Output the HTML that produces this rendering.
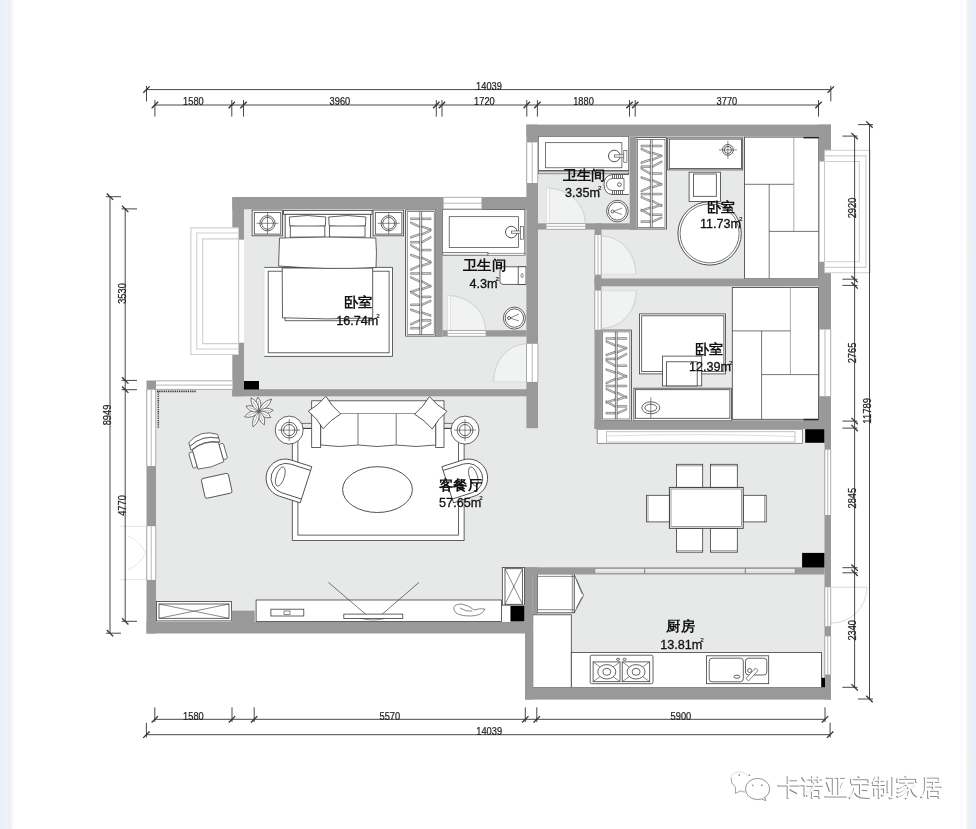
<!DOCTYPE html>
<html><head><meta charset="utf-8"><style>
html,body{margin:0;padding:0;background:#fff;}
body{width:976px;height:829px;overflow:hidden;position:relative;font-family:"Liberation Sans", sans-serif;}
.edgeL{position:absolute;left:0;top:0;width:16px;height:829px;background:linear-gradient(to right,#e8f2f5 0px,#e9f1f8 2px,#ecf1fa 4px,#edf1fb 7px,#eeeef8 8px,#efeff8 10px,#f4f4f8 11.5px,#f9fafd 12.5px,#fdfefe 14px,#ffffff 16px);}
.edgeR{position:absolute;left:958px;top:0;width:18px;height:829px;background:linear-gradient(to right,#ffffff 0px,#ffffff 2px,#fcfcfe 2.5px,#fcfcfe 4.5px,#ffffff 5px,#ffffff 7.5px,#f6f7f7 8.5px,#f0f1f2 10px,#eef0f4 12px,#edf0f8 14px,#ebeffb 16px,#ebeffb 18px);}
svg{position:absolute;left:0;top:0;will-change:transform;}
</style></head><body>
<div class="edgeL"></div><div class="edgeR"></div>
<svg width="976" height="829" viewBox="0 0 976 829">
<rect x="244.0" y="209.0" width="294.0" height="187.0" fill="#e7e8e8"/>
<rect x="538.0" y="136.0" width="293.0" height="293.0" fill="#e7e8e8"/>
<rect x="156.0" y="389.0" width="675.0" height="233.0" fill="#e7e8e8"/>
<rect x="525.0" y="567.0" width="306.0" height="133.0" fill="#e7e8e8"/>
<rect x="264.1" y="267.4" width="128.4" height="89.0" fill="#ffffff"/>
<path d="M264.1,267.4 L392.5,267.4 L392.5,356.4 L264.1,356.4" fill="none" stroke="#3a3a3a" stroke-width="0.8"/>
<line x1="264.1" y1="267.4" x2="264.1" y2="356.4" stroke="#d8d8d8" stroke-width="0.6"/>
<rect x="268.2" y="271.2" width="120.9" height="81.6" fill="none" stroke="#3c3c3c" stroke-width="0.8"/>
<rect x="252.1" y="210.1" width="30.4" height="25.7" fill="#ffffff" stroke="#3c3c3c" stroke-width="0.8"/>
<rect x="254.3" y="212.6" width="26.5" height="21.5" fill="none" stroke="#3c3c3c" stroke-width="0.8"/>
<circle cx="267.5" cy="223.3" r="7.6" fill="#ffffff" stroke="#3c3c3c" stroke-width="0.8"/>
<circle cx="267.5" cy="223.3" r="5.9" fill="none" stroke="#3c3c3c" stroke-width="0.8"/>
<line x1="256.5" y1="223.3" x2="278.5" y2="223.3" stroke="#3c3c3c" stroke-width="0.6"/>
<line x1="267.5" y1="212.3" x2="267.5" y2="234.3" stroke="#3c3c3c" stroke-width="0.6"/>
<rect x="373.1" y="210.1" width="30.5" height="25.7" fill="#ffffff" stroke="#3c3c3c" stroke-width="0.8"/>
<rect x="375.3" y="212.6" width="26.6" height="21.5" fill="none" stroke="#3c3c3c" stroke-width="0.8"/>
<circle cx="388.7" cy="223.3" r="7.6" fill="#ffffff" stroke="#3c3c3c" stroke-width="0.8"/>
<circle cx="388.7" cy="223.3" r="5.9" fill="none" stroke="#3c3c3c" stroke-width="0.8"/>
<line x1="377.7" y1="223.3" x2="399.7" y2="223.3" stroke="#3c3c3c" stroke-width="0.6"/>
<line x1="388.7" y1="212.3" x2="388.7" y2="234.3" stroke="#3c3c3c" stroke-width="0.6"/>
<rect x="283.5" y="210.4" width="88.6" height="3.9" fill="#ffffff" stroke="#3c3c3c" stroke-width="0.8"/>
<rect x="285.2" y="214.3" width="85.2" height="25.7" fill="#ffffff" stroke="#3c3c3c" stroke-width="0.8"/>
<path d="M289.3,217 Q307,214 325.8,217 L325.3,226 Q307,228 289.8,226 Z" fill="#ffffff" stroke="#3a3a3a" stroke-width="0.8"/>
<path d="M328.7,217 Q347,214 365.9,217 L365.4,226 Q347,228 329.2,226 Z" fill="#ffffff" stroke="#3a3a3a" stroke-width="0.8"/>
<path d="M290.3,226 L324.8,226 L324.8,237.1 L290.3,237.1 Z" fill="#ffffff" stroke="#3a3a3a" stroke-width="0.8"/>
<path d="M329.5,226 L365.0,226 L365.0,237.1 L329.5,237.1 Z" fill="#ffffff" stroke="#3a3a3a" stroke-width="0.8"/>
<path d="M285,268 L285,320.7 L372,320.7 L372,268" fill="#ffffff" stroke="#3a3a3a" stroke-width="0.8"/>
<path d="M282.2,268 L282.5,317.8 Q327,320 372.7,317.8 L372.7,268 Z" fill="#ffffff" stroke="#3a3a3a" stroke-width="0.8"/>
<path d="M279.5,238 Q279,253 278.6,266 Q327,270 376,267.5 Q377,252 375.8,238 Q327,236 279.5,238 Z" fill="#ffffff" stroke="#3a3a3a" stroke-width="0.8"/>
<rect x="405.6" y="209.9" width="30.2" height="126.2" fill="#ffffff" stroke="#3c3c3c" stroke-width="0.8"/>
<rect x="407.2" y="211.7" width="27.0" height="122.8" fill="none" stroke="#3c3c3c" stroke-width="0.6"/>
<path d="M419.5,218.0 L410.6,218.0 L410.6,219.6 L419.5,219.6 Z" fill="#e4e4e4" stroke="#555" stroke-width="0.6"/>
<path d="M421.9,218.0 L431.0,218.0 L431.0,219.6 L421.9,219.6 Z" fill="#e4e4e4" stroke="#555" stroke-width="0.6"/>
<path d="M419.5,225.8 L410.6,221.8 L410.6,223.4 L419.5,227.4 Z" fill="#e4e4e4" stroke="#555" stroke-width="0.6"/>
<path d="M421.9,225.8 L431.0,228.8 L431.0,230.4 L421.9,227.4 Z" fill="#e4e4e4" stroke="#555" stroke-width="0.6"/>
<path d="M419.5,233.6 L410.6,236.6 L410.6,238.2 L419.5,235.2 Z" fill="#e4e4e4" stroke="#555" stroke-width="0.6"/>
<path d="M421.9,233.6 L431.0,229.6 L431.0,231.2 L421.9,235.2 Z" fill="#e4e4e4" stroke="#555" stroke-width="0.6"/>
<path d="M419.5,241.4 L410.6,241.4 L410.6,243.0 L419.5,243.0 Z" fill="#e4e4e4" stroke="#555" stroke-width="0.6"/>
<path d="M421.9,241.4 L431.0,236.4 L431.0,238.0 L421.9,243.0 Z" fill="#e4e4e4" stroke="#555" stroke-width="0.6"/>
<path d="M419.5,249.3 L410.6,244.3 L410.6,245.9 L419.5,250.9 Z" fill="#e4e4e4" stroke="#555" stroke-width="0.6"/>
<path d="M421.9,249.3 L431.0,249.3 L431.0,250.9 L421.9,250.9 Z" fill="#e4e4e4" stroke="#555" stroke-width="0.6"/>
<path d="M419.5,257.1 L410.6,254.1 L410.6,255.7 L419.5,258.7 Z" fill="#e4e4e4" stroke="#555" stroke-width="0.6"/>
<path d="M421.9,257.1 L431.0,261.1 L431.0,262.7 L421.9,258.7 Z" fill="#e4e4e4" stroke="#555" stroke-width="0.6"/>
<path d="M419.5,264.9 L410.6,268.9 L410.6,270.5 L419.5,266.5 Z" fill="#e4e4e4" stroke="#555" stroke-width="0.6"/>
<path d="M421.9,264.9 L431.0,261.9 L431.0,263.5 L421.9,266.5 Z" fill="#e4e4e4" stroke="#555" stroke-width="0.6"/>
<path d="M419.5,272.7 L410.6,272.7 L410.6,274.3 L419.5,274.3 Z" fill="#e4e4e4" stroke="#555" stroke-width="0.6"/>
<path d="M421.9,272.7 L431.0,272.7 L431.0,274.3 L421.9,274.3 Z" fill="#e4e4e4" stroke="#555" stroke-width="0.6"/>
<path d="M419.5,280.5 L410.6,276.5 L410.6,278.1 L419.5,282.1 Z" fill="#e4e4e4" stroke="#555" stroke-width="0.6"/>
<path d="M421.9,280.5 L431.0,285.5 L431.0,287.1 L421.9,282.1 Z" fill="#e4e4e4" stroke="#555" stroke-width="0.6"/>
<path d="M419.5,288.3 L410.6,291.3 L410.6,292.9 L419.5,289.9 Z" fill="#e4e4e4" stroke="#555" stroke-width="0.6"/>
<path d="M421.9,288.3 L431.0,285.3 L431.0,286.9 L421.9,289.9 Z" fill="#e4e4e4" stroke="#555" stroke-width="0.6"/>
<path d="M419.5,296.1 L410.6,291.1 L410.6,292.7 L419.5,297.7 Z" fill="#e4e4e4" stroke="#555" stroke-width="0.6"/>
<path d="M421.9,296.1 L431.0,296.1 L431.0,297.7 L421.9,297.7 Z" fill="#e4e4e4" stroke="#555" stroke-width="0.6"/>
<path d="M419.5,304.0 L410.6,304.0 L410.6,305.6 L419.5,305.6 Z" fill="#e4e4e4" stroke="#555" stroke-width="0.6"/>
<path d="M421.9,304.0 L431.0,300.0 L431.0,301.6 L421.9,305.6 Z" fill="#e4e4e4" stroke="#555" stroke-width="0.6"/>
<path d="M419.5,311.8 L410.6,308.8 L410.6,310.4 L419.5,313.4 Z" fill="#e4e4e4" stroke="#555" stroke-width="0.6"/>
<path d="M421.9,311.8 L431.0,314.8 L431.0,316.4 L421.9,313.4 Z" fill="#e4e4e4" stroke="#555" stroke-width="0.6"/>
<path d="M419.5,319.6 L410.6,323.6 L410.6,325.2 L419.5,321.2 Z" fill="#e4e4e4" stroke="#555" stroke-width="0.6"/>
<path d="M421.9,319.6 L431.0,319.6 L431.0,321.2 L421.9,321.2 Z" fill="#e4e4e4" stroke="#555" stroke-width="0.6"/>
<path d="M419.5,327.4 L410.6,327.4 L410.6,329.0 L419.5,329.0 Z" fill="#e4e4e4" stroke="#555" stroke-width="0.6"/>
<path d="M421.9,327.4 L431.0,322.4 L431.0,324.0 L421.9,329.0 Z" fill="#e4e4e4" stroke="#555" stroke-width="0.6"/>
<line x1="419.8" y1="211.7" x2="419.8" y2="334.5" stroke="#444" stroke-width="0.7"/>
<line x1="421.6" y1="211.7" x2="421.6" y2="334.5" stroke="#444" stroke-width="0.7"/>
<rect x="636.0" y="137.6" width="30.6" height="91.4" fill="#ffffff" stroke="#3c3c3c" stroke-width="0.8"/>
<rect x="637.6" y="139.4" width="27.4" height="88.0" fill="none" stroke="#3c3c3c" stroke-width="0.6"/>
<path d="M650.1,145.2 L641.0,145.2 L641.0,146.8 L650.1,146.8 Z" fill="#e4e4e4" stroke="#555" stroke-width="0.6"/>
<path d="M652.5,145.2 L661.8,145.2 L661.8,146.8 L652.5,146.8 Z" fill="#e4e4e4" stroke="#555" stroke-width="0.6"/>
<path d="M650.1,152.1 L641.0,148.1 L641.0,149.7 L650.1,153.7 Z" fill="#e4e4e4" stroke="#555" stroke-width="0.6"/>
<path d="M652.5,152.1 L661.8,155.1 L661.8,156.7 L652.5,153.7 Z" fill="#e4e4e4" stroke="#555" stroke-width="0.6"/>
<path d="M650.1,159.0 L641.0,162.0 L641.0,163.6 L650.1,160.6 Z" fill="#e4e4e4" stroke="#555" stroke-width="0.6"/>
<path d="M652.5,159.0 L661.8,155.0 L661.8,156.6 L652.5,160.6 Z" fill="#e4e4e4" stroke="#555" stroke-width="0.6"/>
<path d="M650.1,165.8 L641.0,165.8 L641.0,167.4 L650.1,167.4 Z" fill="#e4e4e4" stroke="#555" stroke-width="0.6"/>
<path d="M652.5,165.8 L661.8,160.8 L661.8,162.4 L652.5,167.4 Z" fill="#e4e4e4" stroke="#555" stroke-width="0.6"/>
<path d="M650.1,172.7 L641.0,167.7 L641.0,169.3 L650.1,174.3 Z" fill="#e4e4e4" stroke="#555" stroke-width="0.6"/>
<path d="M652.5,172.7 L661.8,172.7 L661.8,174.3 L652.5,174.3 Z" fill="#e4e4e4" stroke="#555" stroke-width="0.6"/>
<path d="M650.1,179.6 L641.0,176.6 L641.0,178.2 L650.1,181.2 Z" fill="#e4e4e4" stroke="#555" stroke-width="0.6"/>
<path d="M652.5,179.6 L661.8,183.6 L661.8,185.2 L652.5,181.2 Z" fill="#e4e4e4" stroke="#555" stroke-width="0.6"/>
<path d="M650.1,186.4 L641.0,190.4 L641.0,192.0 L650.1,188.0 Z" fill="#e4e4e4" stroke="#555" stroke-width="0.6"/>
<path d="M652.5,186.4 L661.8,183.4 L661.8,185.0 L652.5,188.0 Z" fill="#e4e4e4" stroke="#555" stroke-width="0.6"/>
<path d="M650.1,193.3 L641.0,193.3 L641.0,194.9 L650.1,194.9 Z" fill="#e4e4e4" stroke="#555" stroke-width="0.6"/>
<path d="M652.5,193.3 L661.8,193.3 L661.8,194.9 L652.5,194.9 Z" fill="#e4e4e4" stroke="#555" stroke-width="0.6"/>
<path d="M650.1,200.2 L641.0,196.2 L641.0,197.8 L650.1,201.8 Z" fill="#e4e4e4" stroke="#555" stroke-width="0.6"/>
<path d="M652.5,200.2 L661.8,205.2 L661.8,206.8 L652.5,201.8 Z" fill="#e4e4e4" stroke="#555" stroke-width="0.6"/>
<path d="M650.1,207.0 L641.0,210.0 L641.0,211.6 L650.1,208.6 Z" fill="#e4e4e4" stroke="#555" stroke-width="0.6"/>
<path d="M652.5,207.0 L661.8,204.0 L661.8,205.6 L652.5,208.6 Z" fill="#e4e4e4" stroke="#555" stroke-width="0.6"/>
<path d="M650.1,213.9 L641.0,208.9 L641.0,210.5 L650.1,215.5 Z" fill="#e4e4e4" stroke="#555" stroke-width="0.6"/>
<path d="M652.5,213.9 L661.8,213.9 L661.8,215.5 L652.5,215.5 Z" fill="#e4e4e4" stroke="#555" stroke-width="0.6"/>
<path d="M650.1,220.8 L641.0,220.8 L641.0,222.4 L650.1,222.4 Z" fill="#e4e4e4" stroke="#555" stroke-width="0.6"/>
<path d="M652.5,220.8 L661.8,216.8 L661.8,218.4 L652.5,222.4 Z" fill="#e4e4e4" stroke="#555" stroke-width="0.6"/>
<line x1="650.4" y1="139.4" x2="650.4" y2="227.4" stroke="#444" stroke-width="0.7"/>
<line x1="652.2" y1="139.4" x2="652.2" y2="227.4" stroke="#444" stroke-width="0.7"/>
<rect x="601.0" y="330.1" width="30.5" height="90.5" fill="#ffffff" stroke="#3c3c3c" stroke-width="0.8"/>
<rect x="602.6" y="331.9" width="27.3" height="87.1" fill="none" stroke="#3c3c3c" stroke-width="0.6"/>
<path d="M615.0,337.7 L606.0,337.7 L606.0,339.3 L615.0,339.3 Z" fill="#e4e4e4" stroke="#555" stroke-width="0.6"/>
<path d="M617.5,337.7 L626.7,337.7 L626.7,339.3 L617.5,339.3 Z" fill="#e4e4e4" stroke="#555" stroke-width="0.6"/>
<path d="M615.0,344.5 L606.0,340.5 L606.0,342.1 L615.0,346.1 Z" fill="#e4e4e4" stroke="#555" stroke-width="0.6"/>
<path d="M617.5,344.5 L626.7,347.5 L626.7,349.1 L617.5,346.1 Z" fill="#e4e4e4" stroke="#555" stroke-width="0.6"/>
<path d="M615.0,351.3 L606.0,354.3 L606.0,355.9 L615.0,352.9 Z" fill="#e4e4e4" stroke="#555" stroke-width="0.6"/>
<path d="M617.5,351.3 L626.7,347.3 L626.7,348.9 L617.5,352.9 Z" fill="#e4e4e4" stroke="#555" stroke-width="0.6"/>
<path d="M615.0,358.1 L606.0,358.1 L606.0,359.7 L615.0,359.7 Z" fill="#e4e4e4" stroke="#555" stroke-width="0.6"/>
<path d="M617.5,358.1 L626.7,353.1 L626.7,354.7 L617.5,359.7 Z" fill="#e4e4e4" stroke="#555" stroke-width="0.6"/>
<path d="M615.0,364.9 L606.0,359.9 L606.0,361.5 L615.0,366.5 Z" fill="#e4e4e4" stroke="#555" stroke-width="0.6"/>
<path d="M617.5,364.9 L626.7,364.9 L626.7,366.5 L617.5,366.5 Z" fill="#e4e4e4" stroke="#555" stroke-width="0.6"/>
<path d="M615.0,371.7 L606.0,368.7 L606.0,370.3 L615.0,373.3 Z" fill="#e4e4e4" stroke="#555" stroke-width="0.6"/>
<path d="M617.5,371.7 L626.7,375.7 L626.7,377.3 L617.5,373.3 Z" fill="#e4e4e4" stroke="#555" stroke-width="0.6"/>
<path d="M615.0,378.4 L606.0,382.4 L606.0,384.0 L615.0,380.0 Z" fill="#e4e4e4" stroke="#555" stroke-width="0.6"/>
<path d="M617.5,378.4 L626.7,375.4 L626.7,377.0 L617.5,380.0 Z" fill="#e4e4e4" stroke="#555" stroke-width="0.6"/>
<path d="M615.0,385.2 L606.0,385.2 L606.0,386.8 L615.0,386.8 Z" fill="#e4e4e4" stroke="#555" stroke-width="0.6"/>
<path d="M617.5,385.2 L626.7,385.2 L626.7,386.8 L617.5,386.8 Z" fill="#e4e4e4" stroke="#555" stroke-width="0.6"/>
<path d="M615.0,392.0 L606.0,388.0 L606.0,389.6 L615.0,393.6 Z" fill="#e4e4e4" stroke="#555" stroke-width="0.6"/>
<path d="M617.5,392.0 L626.7,397.0 L626.7,398.6 L617.5,393.6 Z" fill="#e4e4e4" stroke="#555" stroke-width="0.6"/>
<path d="M615.0,398.8 L606.0,401.8 L606.0,403.4 L615.0,400.4 Z" fill="#e4e4e4" stroke="#555" stroke-width="0.6"/>
<path d="M617.5,398.8 L626.7,395.8 L626.7,397.4 L617.5,400.4 Z" fill="#e4e4e4" stroke="#555" stroke-width="0.6"/>
<path d="M615.0,405.6 L606.0,400.6 L606.0,402.2 L615.0,407.2 Z" fill="#e4e4e4" stroke="#555" stroke-width="0.6"/>
<path d="M617.5,405.6 L626.7,405.6 L626.7,407.2 L617.5,407.2 Z" fill="#e4e4e4" stroke="#555" stroke-width="0.6"/>
<path d="M615.0,412.4 L606.0,412.4 L606.0,414.0 L615.0,414.0 Z" fill="#e4e4e4" stroke="#555" stroke-width="0.6"/>
<path d="M617.5,412.4 L626.7,408.4 L626.7,410.0 L617.5,414.0 Z" fill="#e4e4e4" stroke="#555" stroke-width="0.6"/>
<line x1="615.4" y1="331.9" x2="615.4" y2="419.0" stroke="#444" stroke-width="0.7"/>
<line x1="617.1" y1="331.9" x2="617.1" y2="419.0" stroke="#444" stroke-width="0.7"/>
<rect x="442.5" y="209.5" width="82.4" height="45.2" fill="#ffffff" stroke="#3c3c3c" stroke-width="0.8"/>
<rect x="449.2" y="216.7" width="69.4" height="30.8" fill="#ffffff" stroke="#3c3c3c" stroke-width="0.7"/>
<circle cx="511.3" cy="232.1" r="5.8" fill="#ffffff" stroke="#3c3c3c" stroke-width="0.9"/>
<rect x="511.3" y="231.0" width="9.7" height="2.2" fill="#ffffff" stroke="#3c3c3c" stroke-width="0.6"/>
<rect x="520.3" y="226.3" width="3.1" height="12.9" fill="#ffffff" stroke="#3c3c3c" stroke-width="0.6"/>
<rect x="442.8" y="252.6" width="45.2" height="2.6" fill="#f0f0f0" stroke="#3c3c3c" stroke-width="0.6"/>
<rect x="488.0" y="253.2" width="37.0" height="2.0" fill="#ffffff" stroke="#3c3c3c" stroke-width="0.5"/>
<path d="M526,266.8 L503,266.8 Q500,267.5 500,270 L500,281.5 Q500,284.2 503,284.4 L526,284.4" fill="#ffffff" stroke="#3c3c3c" stroke-width="0.8"/>
<rect x="518.2" y="266.8" width="7.8" height="17.6" fill="#ffffff" stroke="#3c3c3c" stroke-width="0.8"/>
<ellipse cx="522.1" cy="275.6" rx="1.1" ry="2.0" fill="none" stroke="#3c3c3c" stroke-width="0.6"/>
<circle cx="514.4" cy="318.1" r="11.0" fill="#ffffff" stroke="#3c3c3c" stroke-width="0.8"/>
<circle cx="514.4" cy="318.1" r="9.2" fill="#ffffff" stroke="#3c3c3c" stroke-width="0.8"/>
<circle cx="509.0" cy="318.0" r="1.5" fill="none" stroke="#3c3c3c" stroke-width="0.8"/>
<line x1="510.0" y1="318.0" x2="519.0" y2="314.0" stroke="#3c3c3c" stroke-width="0.6"/>
<line x1="510.0" y1="318.0" x2="519.0" y2="321.0" stroke="#3c3c3c" stroke-width="0.6"/>
<rect x="538.2" y="136.3" width="90.6" height="34.2" fill="#ffffff" stroke="#3c3c3c" stroke-width="0.8"/>
<rect x="545.5" y="142.7" width="76.4" height="25.1" fill="#ffffff" stroke="#3c3c3c" stroke-width="0.7"/>
<circle cx="614.3" cy="156.0" r="5.8" fill="#ffffff" stroke="#3c3c3c" stroke-width="0.9"/>
<rect x="614.3" y="154.9" width="10.2" height="2.2" fill="#ffffff" stroke="#3c3c3c" stroke-width="0.6"/>
<rect x="623.8" y="150.3" width="3.1" height="11.9" fill="#ffffff" stroke="#3c3c3c" stroke-width="0.6"/>
<path d="M628.8,174.5 L612,174.5 Q604,176 604,184.5 Q604,193.5 612,194.5 L628.8,194.5" fill="#ffffff" stroke="#3a3a3a" stroke-width="0.8"/>
<path d="M612,178.5 Q606.5,179.5 606.5,184.5 Q606.5,189.5 612,190.5 L624,190.5 L624,178.5 Z" fill="#ffffff" stroke="#3c3c3c" stroke-width="0.7"/>
<line x1="612.5" y1="174.8" x2="612.5" y2="178.3" stroke="#444" stroke-width="0.8"/>
<line x1="612.5" y1="190.8" x2="612.5" y2="194.2" stroke="#444" stroke-width="0.8"/>
<line x1="614.5" y1="174.8" x2="614.5" y2="178.3" stroke="#444" stroke-width="0.8"/>
<line x1="614.5" y1="190.8" x2="614.5" y2="194.2" stroke="#444" stroke-width="0.8"/>
<line x1="616.5" y1="174.8" x2="616.5" y2="178.3" stroke="#444" stroke-width="0.8"/>
<line x1="616.5" y1="190.8" x2="616.5" y2="194.2" stroke="#444" stroke-width="0.8"/>
<line x1="618.5" y1="174.8" x2="618.5" y2="178.3" stroke="#444" stroke-width="0.8"/>
<line x1="618.5" y1="190.8" x2="618.5" y2="194.2" stroke="#444" stroke-width="0.8"/>
<line x1="620.5" y1="174.8" x2="620.5" y2="178.3" stroke="#444" stroke-width="0.8"/>
<line x1="620.5" y1="190.8" x2="620.5" y2="194.2" stroke="#444" stroke-width="0.8"/>
<line x1="622.5" y1="174.8" x2="622.5" y2="178.3" stroke="#444" stroke-width="0.8"/>
<line x1="622.5" y1="190.8" x2="622.5" y2="194.2" stroke="#444" stroke-width="0.8"/>
<circle cx="619.4" cy="184.6" r="1.9" fill="none" stroke="#3c3c3c" stroke-width="0.8"/>
<rect x="538.2" y="171.9" width="90.6" height="1.9" fill="#ffffff" stroke="#3c3c3c" stroke-width="0.6"/>
<circle cx="617.4" cy="211.1" r="10.8" fill="#ffffff" stroke="#3c3c3c" stroke-width="0.8"/>
<circle cx="617.4" cy="211.1" r="9.0" fill="#ffffff" stroke="#3c3c3c" stroke-width="0.8"/>
<circle cx="612.5" cy="211.5" r="1.5" fill="none" stroke="#3c3c3c" stroke-width="0.8"/>
<line x1="613.5" y1="211.5" x2="622.0" y2="208.0" stroke="#3c3c3c" stroke-width="0.6"/>
<line x1="613.5" y1="211.5" x2="622.0" y2="214.5" stroke="#3c3c3c" stroke-width="0.6"/>
<rect x="744.5" y="137.1" width="74.3" height="141.7" fill="#ffffff" stroke="#3c3c3c" stroke-width="0.8"/>
<line x1="744.5" y1="184.3" x2="793.8" y2="184.3" stroke="#3c3c3c" stroke-width="0.7"/>
<line x1="793.8" y1="137.1" x2="793.8" y2="231.4" stroke="#888" stroke-width="0.7"/>
<line x1="769.2" y1="184.3" x2="769.2" y2="278.8" stroke="#3c3c3c" stroke-width="0.7"/>
<line x1="769.2" y1="231.4" x2="818.8" y2="231.4" stroke="#3c3c3c" stroke-width="0.7"/>
<line x1="803.5" y1="137.6" x2="818.8" y2="137.6" stroke="#222" stroke-width="1.6"/>
<rect x="667.7" y="137.9" width="75.0" height="32.0" fill="#ffffff" stroke="#3c3c3c" stroke-width="0.8"/>
<rect x="669.3" y="139.1" width="72.3" height="29.5" fill="none" stroke="#3c3c3c" stroke-width="0.8"/>
<circle cx="727.9" cy="149.9" r="5.4" fill="#ffffff" stroke="#3c3c3c" stroke-width="0.8"/>
<circle cx="727.9" cy="149.9" r="3.6" fill="none" stroke="#3c3c3c" stroke-width="0.8"/>
<line x1="718.9" y1="149.9" x2="736.9" y2="149.9" stroke="#3c3c3c" stroke-width="0.6"/>
<line x1="727.9" y1="140.9" x2="727.9" y2="158.9" stroke="#3c3c3c" stroke-width="0.6"/>
<rect x="689.1" y="172.2" width="31.3" height="29.4" fill="#ffffff" stroke="#3c3c3c" stroke-width="0.8"/>
<rect x="693.6" y="174.0" width="22.7" height="22.3" fill="#ffffff" stroke="#3c3c3c" stroke-width="0.8"/>
<circle cx="709.6" cy="233.4" r="31.7" fill="#ffffff" stroke="#3c3c3c" stroke-width="0.9"/>
<circle cx="709.6" cy="233.4" r="29.5" fill="none" stroke="#3c3c3c" stroke-width="0.7"/>
<rect x="732.3" y="287.4" width="86.2" height="131.9" fill="#ffffff" stroke="#3c3c3c" stroke-width="0.8"/>
<line x1="790.4" y1="287.4" x2="790.4" y2="374.6" stroke="#888" stroke-width="0.7"/>
<line x1="732.3" y1="330.9" x2="790.4" y2="330.9" stroke="#3c3c3c" stroke-width="0.7"/>
<line x1="761.6" y1="330.9" x2="761.6" y2="419.3" stroke="#3c3c3c" stroke-width="0.7"/>
<line x1="761.6" y1="374.6" x2="818.5" y2="374.6" stroke="#3c3c3c" stroke-width="0.7"/>
<rect x="639.5" y="313.9" width="85.9" height="60.0" fill="#ffffff" stroke="#3c3c3c" stroke-width="0.8"/>
<rect x="641.7" y="315.8" width="82.2" height="55.8" fill="none" stroke="#3c3c3c" stroke-width="0.8"/>
<rect x="633.9" y="388.2" width="97.5" height="32.4" fill="#ffffff" stroke="#3c3c3c" stroke-width="0.8"/>
<rect x="635.4" y="389.7" width="94.5" height="28.6" fill="none" stroke="#3c3c3c" stroke-width="0.8"/>
<ellipse cx="650.8" cy="407.8" rx="9.0" ry="6.0" fill="#ffffff" stroke="#3c3c3c" stroke-width="0.8"/>
<ellipse cx="650.8" cy="407.8" rx="6.0" ry="3.6" fill="none" stroke="#3c3c3c" stroke-width="0.8"/>
<line x1="650.8" y1="397.5" x2="650.8" y2="418.0" stroke="#3c3c3c" stroke-width="0.6"/>
<rect x="662.5" y="356.1" width="39.2" height="29.8" fill="#ffffff" stroke="#3c3c3c" stroke-width="0.8"/>
<rect x="666.6" y="361.8" width="30.6" height="24.1" fill="#ffffff" stroke="#3c3c3c" stroke-width="0.8"/>
<rect x="597.2" y="429.2" width="205.4" height="14.1" fill="#ffffff" stroke="#666" stroke-width="0.7"/>
<rect x="606.6" y="431.8" width="188.4" height="10.2" fill="none" stroke="#999" stroke-width="0.6"/>
<path d="M606.6,436 Q700,433 795,436.5" fill="none" stroke="#bbb" stroke-width="0.5"/>
<path d="M157,391.3 L196,391.3" stroke="#333" stroke-width="1.8" stroke-dasharray="1.3,0.9" fill="none"/>
<path d="M158.3,391.3 L158.3,428.6" stroke="#444" stroke-width="1.6" stroke-dasharray="1.3,0.9" fill="none"/>
<rect x="292.3" y="428.4" width="171.8" height="112.1" fill="#ffffff" stroke="#3c3c3c" stroke-width="0.8"/>
<rect x="297.9" y="428.4" width="160.7" height="106.7" fill="none" stroke="#3c3c3c" stroke-width="0.8"/>
<ellipse cx="377.5" cy="489.6" rx="34.9" ry="22.9" fill="#ffffff" stroke="#3c3c3c" stroke-width="0.9"/>
<line x1="301.2" y1="423.4" x2="311.7" y2="423.4" stroke="#3c3c3c" stroke-width="0.7"/>
<line x1="301.2" y1="428.3" x2="311.7" y2="428.3" stroke="#3c3c3c" stroke-width="0.7"/>
<circle cx="289.2" cy="430.1" r="14.0" fill="#ffffff" stroke="#3c3c3c" stroke-width="0.8"/>
<circle cx="289.2" cy="430.1" r="7.9" fill="none" stroke="#3c3c3c" stroke-width="0.8"/>
<circle cx="289.2" cy="430.1" r="5.6" fill="none" stroke="#3c3c3c" stroke-width="0.8"/>
<line x1="278.2" y1="430.1" x2="300.2" y2="430.1" stroke="#3c3c3c" stroke-width="0.6"/>
<line x1="289.2" y1="419.0" x2="289.2" y2="441.0" stroke="#3c3c3c" stroke-width="0.6"/>
<line x1="453.0" y1="423.4" x2="444.0" y2="423.4" stroke="#3c3c3c" stroke-width="0.7"/>
<line x1="453.0" y1="428.3" x2="444.0" y2="428.3" stroke="#3c3c3c" stroke-width="0.7"/>
<circle cx="465.0" cy="430.1" r="14.0" fill="#ffffff" stroke="#3c3c3c" stroke-width="0.8"/>
<circle cx="465.0" cy="430.1" r="7.9" fill="none" stroke="#3c3c3c" stroke-width="0.8"/>
<circle cx="465.0" cy="430.1" r="5.6" fill="none" stroke="#3c3c3c" stroke-width="0.8"/>
<line x1="454.0" y1="430.1" x2="476.0" y2="430.1" stroke="#3c3c3c" stroke-width="0.6"/>
<line x1="465.0" y1="419.0" x2="465.0" y2="441.0" stroke="#3c3c3c" stroke-width="0.6"/>
<rect x="311.7" y="400.8" width="132.3" height="12.9" fill="#ffffff" stroke="#3c3c3c" stroke-width="0.8"/>
<rect x="311.7" y="413.7" width="9.0" height="33.8" fill="#ffffff" stroke="#3c3c3c" stroke-width="0.8"/>
<rect x="435.7" y="413.7" width="8.3" height="33.8" fill="#ffffff" stroke="#3c3c3c" stroke-width="0.8"/>
<path d="M320.7,413.7 L320.7,445 Q339,448 358,445 Q377,448 396.2,445 Q416,448 435.7,445 L435.7,413.7" fill="#ffffff" stroke="#3a3a3a" stroke-width="0.8"/>
<line x1="358.0" y1="413.7" x2="358.0" y2="445.0" stroke="#3c3c3c" stroke-width="0.7"/>
<line x1="396.2" y1="413.7" x2="396.2" y2="445.0" stroke="#3c3c3c" stroke-width="0.7"/>
<g transform="translate(324.5,412.5) rotate(-40)"><path d="M-11.5,-11.5 Q0,-9.5 11.5,-11.5 Q9.5,0 11.5,11.5 Q0,9.5 -11.5,11.5 Q-9.5,0 -11.5,-11.5 Z" fill="#fff" stroke="#3c3c3c" stroke-width="0.8"/></g>
<g transform="translate(430.8,412.8) rotate(40)"><path d="M-11.5,-11.5 Q0,-9.5 11.5,-11.5 Q9.5,0 11.5,11.5 Q0,9.5 -11.5,11.5 Q-9.5,0 -11.5,-11.5 Z" fill="#fff" stroke="#3c3c3c" stroke-width="0.8"/></g>
<g transform="translate(292.7,480.5) rotate(17.8)"><path d="M14,-19 L-8,-19 A19,19 0 0 0 -8,19 L14,19 Z" fill="#fff" stroke="#3c3c3c" stroke-width="0.8"/><path d="M14,-15 L-7,-15 A15,15 0 0 0 -7,15 L14,15" fill="none" stroke="#3c3c3c" stroke-width="0.8"/><ellipse cx="-13" cy="0" rx="4" ry="10" fill="none" stroke="#3c3c3c" stroke-width="0.7"/></g>
<g transform="translate(461,480.5) scale(-1,1) rotate(17.8)"><path d="M14,-19 L-8,-19 A19,19 0 0 0 -8,19 L14,19 Z" fill="#fff" stroke="#3c3c3c" stroke-width="0.8"/><path d="M14,-15 L-7,-15 A15,15 0 0 0 -7,15 L14,15" fill="none" stroke="#3c3c3c" stroke-width="0.8"/><ellipse cx="-13" cy="0" rx="4" ry="10" fill="none" stroke="#3c3c3c" stroke-width="0.7"/></g>
<path d="M258.8,411.4 Q263.5,404.0 257.9,397.2 Q253.2,404.6 258.8,411.4 Z" fill="#fff" stroke="#3c3c3c" stroke-width="0.7"/>
<path d="M258.8,411.4 Q268.8,408.9 271.5,399.0 Q261.5,401.5 258.8,411.4 Z" fill="#fff" stroke="#3c3c3c" stroke-width="0.7"/>
<path d="M258.8,411.4 Q266.4,416.0 273.2,410.2 Q265.6,405.6 258.8,411.4 Z" fill="#fff" stroke="#3c3c3c" stroke-width="0.7"/>
<path d="M258.8,411.4 Q262.4,419.1 270.8,417.5 Q267.2,409.8 258.8,411.4 Z" fill="#fff" stroke="#3c3c3c" stroke-width="0.7"/>
<path d="M258.8,411.4 Q256.7,420.1 264.3,424.9 Q266.4,416.2 258.8,411.4 Z" fill="#fff" stroke="#3c3c3c" stroke-width="0.7"/>
<path d="M258.8,411.4 Q251.0,417.4 253.0,427.0 Q260.8,421.0 258.8,411.4 Z" fill="#fff" stroke="#3c3c3c" stroke-width="0.7"/>
<path d="M258.8,411.4 Q249.9,409.2 244.6,416.8 Q253.5,419.0 258.8,411.4 Z" fill="#fff" stroke="#3c3c3c" stroke-width="0.7"/>
<path d="M258.8,411.4 Q254.4,404.0 246.0,406.2 Q250.4,413.6 258.8,411.4 Z" fill="#fff" stroke="#3c3c3c" stroke-width="0.7"/>
<path d="M258.8,411.4 Q259.4,402.0 251.0,397.8 Q250.4,407.2 258.8,411.4 Z" fill="#fff" stroke="#3c3c3c" stroke-width="0.7"/>
<line x1="258.8" y1="411.4" x2="258.1" y2="400.8" stroke="#666" stroke-width="0.5"/>
<line x1="258.8" y1="411.4" x2="268.3" y2="402.1" stroke="#666" stroke-width="0.5"/>
<line x1="258.8" y1="411.4" x2="269.6" y2="410.5" stroke="#666" stroke-width="0.5"/>
<line x1="258.8" y1="411.4" x2="267.8" y2="416.0" stroke="#666" stroke-width="0.5"/>
<line x1="258.8" y1="411.4" x2="262.9" y2="421.5" stroke="#666" stroke-width="0.5"/>
<line x1="258.8" y1="411.4" x2="254.4" y2="423.1" stroke="#666" stroke-width="0.5"/>
<line x1="258.8" y1="411.4" x2="248.2" y2="415.4" stroke="#666" stroke-width="0.5"/>
<line x1="258.8" y1="411.4" x2="249.2" y2="407.5" stroke="#666" stroke-width="0.5"/>
<line x1="258.8" y1="411.4" x2="252.9" y2="401.2" stroke="#666" stroke-width="0.5"/>
<g transform="translate(206.5,450) rotate(-16)"><path d="M-15,-12 Q0,-22 15,-12 L15,-8 Q0,-16 -15,-8 Z" fill="#fff" stroke="#3c3c3c" stroke-width="0.7"/><path d="M-15,-8 Q0,-16 15,-8 L15,-4 Q0,-11 -15,-4 Z" fill="#fff" stroke="#3c3c3c" stroke-width="0.7"/><rect x="-18" y="-2" width="4.5" height="16" rx="1.5" fill="#fff" stroke="#3c3c3c" stroke-width="0.7"/><rect x="13.5" y="-2" width="4.5" height="16" rx="1.5" fill="#fff" stroke="#3c3c3c" stroke-width="0.7"/><path d="M-13.5,-4 Q0,-10 13.5,-4 L13.5,16 Q0,19 -13.5,16 Z" fill="#fff" stroke="#3c3c3c" stroke-width="0.7"/></g>
<g transform="translate(216.7,485.8) rotate(-12.3)"><rect x="-13.8" y="-10.1" width="27.6" height="20.2" rx="2" fill="#fff" stroke="#3c3c3c" stroke-width="0.8"/></g>
<rect x="156.4" y="601.4" width="75.2" height="19.5" fill="#ffffff" stroke="#3c3c3c" stroke-width="0.8"/>
<rect x="159.0" y="604.0" width="70.0" height="14.3" fill="none" stroke="#3c3c3c" stroke-width="0.8"/>
<line x1="159.0" y1="604.0" x2="229.0" y2="618.3" stroke="#3c3c3c" stroke-width="0.6"/>
<line x1="159.0" y1="618.3" x2="229.0" y2="604.0" stroke="#3c3c3c" stroke-width="0.6"/>
<rect x="256.1" y="600.0" width="245.4" height="21.5" fill="#ffffff" stroke="#3c3c3c" stroke-width="0.8"/>
<line x1="328.4" y1="582.4" x2="366.2" y2="614.7" stroke="#3c3c3c" stroke-width="0.7"/>
<line x1="419.0" y1="582.4" x2="381.6" y2="614.7" stroke="#3c3c3c" stroke-width="0.7"/>
<rect x="343.8" y="614.1" width="59.0" height="4.3" fill="#ffffff" stroke="#3c3c3c" stroke-width="0.8"/>
<path d="M361,618.4 Q373,621.5 385,618.4" fill="none" stroke="#3c3c3c" stroke-width="0.6"/>
<rect x="270.9" y="609.2" width="32.9" height="6.8" fill="#ffffff" stroke="#3c3c3c" stroke-width="0.8"/>
<rect x="284.0" y="611.0" width="6.0" height="3.3" fill="none" stroke="#3c3c3c" stroke-width="0.6"/>
<path d="M454,610 Q452,604 462,604 Q470,606 474,610 Q480,608 485,609 Q482,616 470,616 Q456,616 454,610 Z M460,608 Q466,612 472,611" fill="#fff" stroke="#3c3c3c" stroke-width="0.6"/>
<rect x="502.3" y="567.4" width="22.1" height="37.7" fill="#ffffff" stroke="#3c3c3c" stroke-width="0.8"/>
<rect x="505.0" y="568.7" width="17.6" height="35.6" fill="none" stroke="#3c3c3c" stroke-width="0.8"/>
<line x1="505.0" y1="568.7" x2="522.6" y2="604.3" stroke="#3c3c3c" stroke-width="0.6"/>
<line x1="522.6" y1="568.7" x2="505.0" y2="604.3" stroke="#3c3c3c" stroke-width="0.6"/>
<rect x="502.0" y="606.0" width="8.3" height="15.5" fill="#ffffff"/>
<rect x="676.6" y="464.3" width="26.1" height="23.1" fill="#ffffff" stroke="#3c3c3c" stroke-width="0.8"/>
<rect x="710.4" y="464.3" width="26.9" height="23.1" fill="#ffffff" stroke="#3c3c3c" stroke-width="0.8"/>
<rect x="676.6" y="528.3" width="26.1" height="23.9" fill="#ffffff" stroke="#3c3c3c" stroke-width="0.8"/>
<rect x="710.4" y="528.3" width="26.9" height="23.9" fill="#ffffff" stroke="#3c3c3c" stroke-width="0.8"/>
<rect x="646.4" y="495.3" width="23.0" height="26.6" fill="#ffffff" stroke="#3c3c3c" stroke-width="0.8"/>
<rect x="743.2" y="495.3" width="23.0" height="26.6" fill="#ffffff" stroke="#3c3c3c" stroke-width="0.8"/>
<rect x="669.4" y="487.4" width="73.8" height="40.9" fill="#ffffff" stroke="#3c3c3c" stroke-width="1.0"/>
<rect x="671.0" y="489.0" width="70.6" height="37.7" fill="none" stroke="#3c3c3c" stroke-width="0.5"/>
<line x1="676.6" y1="465.8" x2="702.7" y2="465.8" stroke="#3c3c3c" stroke-width="0.5"/>
<line x1="710.4" y1="465.8" x2="737.3" y2="465.8" stroke="#3c3c3c" stroke-width="0.5"/>
<line x1="676.6" y1="550.7" x2="702.7" y2="550.7" stroke="#3c3c3c" stroke-width="0.5"/>
<line x1="710.4" y1="550.7" x2="737.3" y2="550.7" stroke="#3c3c3c" stroke-width="0.5"/>
<line x1="648.0" y1="495.3" x2="648.0" y2="521.9" stroke="#3c3c3c" stroke-width="0.5"/>
<line x1="764.6" y1="495.3" x2="764.6" y2="521.9" stroke="#3c3c3c" stroke-width="0.5"/>
<rect x="537.4" y="573.8" width="36.9" height="39.0" fill="#ffffff" stroke="#3c3c3c" stroke-width="0.8"/>
<line x1="537.4" y1="576.4" x2="574.3" y2="576.4" stroke="#3c3c3c" stroke-width="0.6"/>
<line x1="537.4" y1="609.7" x2="574.3" y2="609.7" stroke="#3c3c3c" stroke-width="0.6"/>
<line x1="572.3" y1="573.8" x2="572.3" y2="612.8" stroke="#3c3c3c" stroke-width="0.6"/>
<path d="M574.3,575 L583.6,595.3 L574.3,612.8 Z" fill="#fff" stroke="#3c3c3c" stroke-width="0.7"/>
<path d="M576.5,580 L582,594 M576.5,608 L582,597" fill="none" stroke="#3c3c3c" stroke-width="0.6"/>
<rect x="532.8" y="614.8" width="38.5" height="72.8" fill="#ffffff" stroke="#3c3c3c" stroke-width="0.8"/>
<rect x="571.3" y="652.4" width="250.2" height="35.2" fill="#ffffff" stroke="#3c3c3c" stroke-width="0.8"/>
<rect x="590.2" y="655.2" width="62.8" height="28.5" fill="#ffffff" stroke="#3c3c3c" stroke-width="0.8" rx="1.5"/>
<rect x="593.1" y="661.9" width="26.9" height="19.8" fill="#ffffff" stroke="#3c3c3c" stroke-width="0.8"/>
<line x1="593.1" y1="661.9" x2="620.0" y2="681.7" stroke="#3c3c3c" stroke-width="0.6"/>
<line x1="620.0" y1="661.9" x2="593.1" y2="681.7" stroke="#3c3c3c" stroke-width="0.6"/>
<ellipse cx="606.8" cy="671.8" rx="9.0" ry="7.2" fill="#ffffff" stroke="#3c3c3c" stroke-width="0.8"/>
<ellipse cx="606.8" cy="671.8" rx="4.0" ry="3.5" fill="#ffffff" stroke="#3c3c3c" stroke-width="0.8"/>
<rect x="622.2" y="661.9" width="27.5" height="19.8" fill="#ffffff" stroke="#3c3c3c" stroke-width="0.8"/>
<line x1="622.2" y1="661.9" x2="649.7" y2="681.7" stroke="#3c3c3c" stroke-width="0.6"/>
<line x1="649.7" y1="661.9" x2="622.2" y2="681.7" stroke="#3c3c3c" stroke-width="0.6"/>
<ellipse cx="636.1" cy="671.8" rx="9.0" ry="7.2" fill="#ffffff" stroke="#3c3c3c" stroke-width="0.8"/>
<ellipse cx="636.1" cy="671.8" rx="4.0" ry="3.5" fill="#ffffff" stroke="#3c3c3c" stroke-width="0.8"/>
<ellipse cx="618.1" cy="659.3" rx="1.6" ry="1.1" fill="none" stroke="#3c3c3c" stroke-width="0.8"/>
<ellipse cx="624.6" cy="659.3" rx="1.6" ry="1.1" fill="none" stroke="#3c3c3c" stroke-width="0.8"/>
<rect x="706.4" y="655.8" width="62.3" height="27.9" fill="#ffffff" stroke="#3c3c3c" stroke-width="0.8"/>
<rect x="709.2" y="658.2" width="34.1" height="23.6" fill="#ffffff" stroke="#3c3c3c" stroke-width="0.8" rx="3"/>
<rect x="745.5" y="658.2" width="21.3" height="16.8" fill="#ffffff" stroke="#3c3c3c" stroke-width="0.8" rx="3"/>
<ellipse cx="736.9" cy="676.7" rx="3.0" ry="1.6" fill="none" stroke="#3c3c3c" stroke-width="0.8"/>
<g transform="translate(752,674.5) rotate(-48)"><rect x="-7" y="-1.8" width="14" height="3.6" fill="#fff" stroke="#3c3c3c" stroke-width="0.6"/></g>
<circle cx="749.6" cy="670.5" r="2.0" fill="none" stroke="#3c3c3c" stroke-width="0.8"/>
<rect x="526.4" y="124.6" width="304.6" height="11.9" fill="#999999"/>
<rect x="526.4" y="124.6" width="11.6" height="303.6" fill="#999999"/>
<rect x="819.0" y="124.6" width="12.0" height="304.4" fill="#999999"/>
<rect x="824.5" y="429.0" width="6.5" height="270.5" fill="#999999"/>
<rect x="629.7" y="136.5" width="6.4" height="93.5" fill="#999999"/>
<rect x="538.0" y="223.3" width="98.1" height="6.3" fill="#999999"/>
<rect x="594.5" y="223.3" width="7.0" height="205.7" fill="#999999"/>
<rect x="594.5" y="278.5" width="236.5" height="7.8" fill="#999999"/>
<rect x="594.5" y="420.3" width="236.5" height="8.7" fill="#999999"/>
<rect x="232.3" y="197.0" width="305.7" height="12.3" fill="#999999"/>
<rect x="232.3" y="197.0" width="11.7" height="199.3" fill="#999999"/>
<rect x="436.1" y="209.0" width="6.5" height="128.0" fill="#999999"/>
<rect x="442.6" y="330.2" width="83.8" height="6.4" fill="#999999"/>
<rect x="232.3" y="389.2" width="305.7" height="7.1" fill="#999999"/>
<rect x="146.5" y="380.5" width="9.5" height="253.0" fill="#999999"/>
<rect x="146.5" y="622.0" width="386.3" height="11.5" fill="#999999"/>
<rect x="231.6" y="610.7" width="23.1" height="11.3" fill="#999999"/>
<rect x="525.0" y="567.3" width="7.8" height="132.2" fill="#999999"/>
<rect x="532.8" y="567.3" width="4.7" height="46.7" fill="#999999"/>
<rect x="525.0" y="567.3" width="299.5" height="7.2" fill="#999999"/>
<rect x="525.0" y="687.3" width="306.0" height="12.2" fill="#999999"/>
<path d="M546.5,223.3 L546.5,188.0 A38.8,35.3 0 0 1 585.3,223.3 Z" fill="#f1f2f2" stroke="none"/>
<path d="M546.5,188.0 A38.8,35.3 0 0 1 585.3,223.3" fill="none" stroke="#c8c8c8" stroke-width="0.8"/>
<rect x="546.5" y="188.0" width="2.8" height="35.3" fill="#fafafa" stroke="#cfcfcf" stroke-width="0.5"/>
<path d="M601.5,274.4 L601.5,235.9 A34.5,38.5 0 0 1 636.0,274.4 Z" fill="#f1f2f2" stroke="none"/>
<path d="M601.5,235.9 A34.5,38.5 0 0 1 636.0,274.4" fill="none" stroke="#c8c8c8" stroke-width="0.8"/>
<line x1="601.5" y1="274.2" x2="636.0" y2="274.2" stroke="#d4d4d4" stroke-width="0.7"/>
<path d="M601.5,290.4 L636.5,290.4 A35,38 0 0 1 601.5,328.4 Z" fill="#f1f2f2" stroke="none"/>
<path d="M636.5,290.4 A35,38 0 0 1 601.5,328.4" fill="none" stroke="#c8c8c8" stroke-width="0.8"/>
<line x1="601.5" y1="290.6" x2="636.5" y2="290.6" stroke="#d4d4d4" stroke-width="0.7"/>
<path d="M447.7,330.2 L447.7,295.5 A37.9,34.7 0 0 1 485.6,330.2 Z" fill="#f1f2f2" stroke="none"/>
<path d="M447.7,295.5 A37.9,34.7 0 0 1 485.6,330.2" fill="none" stroke="#c8c8c8" stroke-width="0.8"/>
<rect x="447.7" y="295.5" width="2.6" height="34.7" fill="#fafafa" stroke="#cfcfcf" stroke-width="0.5"/>
<path d="M526.2,381.9 L493.5,381.9 A32.7,38.1 0 0 1 526.2,343.8 Z" fill="#f1f2f2" stroke="none"/>
<path d="M493.5,381.9 A32.7,38.1 0 0 1 526.2,343.8" fill="none" stroke="#c8c8c8" stroke-width="0.8"/>
<line x1="493.5" y1="381.7" x2="526.2" y2="381.7" stroke="#d4d4d4" stroke-width="0.7"/>
<path d="M831,587.2 L867,587.2 A36,36 0 0 1 831,623.2" fill="none" stroke="#cfcfcf" stroke-width="0.8"/>
<path d="M146,526.3 L120,526.3 M146,579.6 L120,579.6 M146,553 Q138,540 128,536 M146,553 Q138,566 128,570" fill="none" stroke="#dedede" stroke-width="0.8"/>
<rect x="190.9" y="227.9" width="47.6" height="126.6" fill="#ffffff"/>
<path d="M238.5,227.9 L190.9,227.9 L190.9,354.5 L238.5,354.5" fill="none" stroke="#cfcfcf" stroke-width="1.1"/>
<path d="M238.5,233.0 L196.8,233.0 L196.8,349.0 L238.5,349.0" fill="none" stroke="#cfcfcf" stroke-width="1.1"/>
<path d="M238.5,238.9 L202.7,238.9 L202.7,343.6 L238.5,343.6" fill="none" stroke="#cfcfcf" stroke-width="1.1"/>
<rect x="238.5" y="239.7" width="5.5" height="103.0" fill="#ffffff"/>
<line x1="238.7" y1="239.7" x2="238.7" y2="342.7" stroke="#bdbdbd" stroke-width="0.8"/>
<rect x="824.6" y="150.3" width="45.4" height="122.4" fill="#ffffff"/>
<path d="M824.6,150.3 L870.0,150.3 L870.0,272.7 L824.6,272.7" fill="none" stroke="#cfcfcf" stroke-width="1.1"/>
<path d="M824.6,155.9 L866.0,155.9 L866.0,267.4 L824.6,267.4" fill="none" stroke="#cfcfcf" stroke-width="1.1"/>
<path d="M824.6,161.5 L859.3,161.5 L859.3,261.8 L824.6,261.8" fill="none" stroke="#cfcfcf" stroke-width="1.1"/>
<rect x="819.0" y="161.5" width="5.6" height="100.3" fill="#ffffff"/>
<line x1="824.6" y1="161.5" x2="824.6" y2="261.8" stroke="#bdbdbd" stroke-width="0.8"/>
<line x1="819.2" y1="161.5" x2="819.2" y2="261.8" stroke="#888" stroke-width="0.7"/>
<rect x="526.4" y="142.4" width="11.6" height="40.6" fill="#ffffff"/>
<line x1="526.7" y1="142.4" x2="526.7" y2="183.0" stroke="#8a8a8a" stroke-width="0.7"/>
<line x1="537.7" y1="142.4" x2="537.7" y2="183.0" stroke="#8a8a8a" stroke-width="0.7"/>
<line x1="532.2" y1="142.4" x2="532.2" y2="183.0" stroke="#999" stroke-width="0.7"/>
<rect x="443.6" y="197.0" width="37.9" height="12.3" fill="#ffffff"/>
<line x1="443.6" y1="197.3" x2="481.5" y2="197.3" stroke="#8a8a8a" stroke-width="0.7"/>
<line x1="443.6" y1="209.0" x2="481.5" y2="209.0" stroke="#8a8a8a" stroke-width="0.7"/>
<line x1="443.6" y1="203.2" x2="481.5" y2="203.2" stroke="#999" stroke-width="0.7"/>
<rect x="156.0" y="380.5" width="76.3" height="9.2" fill="#ffffff"/>
<line x1="156.0" y1="380.8" x2="232.3" y2="380.8" stroke="#8a8a8a" stroke-width="0.7"/>
<line x1="156.0" y1="389.4" x2="232.3" y2="389.4" stroke="#8a8a8a" stroke-width="0.7"/>
<line x1="156.0" y1="385.1" x2="232.3" y2="385.1" stroke="#999" stroke-width="0.7"/>
<rect x="146.5" y="389.7" width="9.5" height="76.3" fill="#ffffff"/>
<line x1="146.8" y1="389.7" x2="146.8" y2="466.0" stroke="#8a8a8a" stroke-width="0.7"/>
<line x1="155.7" y1="389.7" x2="155.7" y2="466.0" stroke="#8a8a8a" stroke-width="0.7"/>
<line x1="151.2" y1="389.7" x2="151.2" y2="466.0" stroke="#999" stroke-width="0.7"/>
<rect x="146.5" y="526.2" width="9.5" height="53.7" fill="#ffffff"/>
<line x1="146.8" y1="526.2" x2="146.8" y2="579.9" stroke="#8a8a8a" stroke-width="0.7"/>
<line x1="155.7" y1="526.2" x2="155.7" y2="579.9" stroke="#8a8a8a" stroke-width="0.7"/>
<line x1="151.2" y1="526.2" x2="151.2" y2="579.9" stroke="#999" stroke-width="0.7"/>
<rect x="819.0" y="329.5" width="12.0" height="66.7" fill="#ffffff"/>
<line x1="819.3" y1="329.5" x2="819.3" y2="396.2" stroke="#8a8a8a" stroke-width="0.7"/>
<line x1="830.7" y1="329.5" x2="830.7" y2="396.2" stroke="#8a8a8a" stroke-width="0.7"/>
<line x1="825.0" y1="329.5" x2="825.0" y2="396.2" stroke="#999" stroke-width="0.7"/>
<rect x="824.5" y="449.7" width="6.5" height="65.3" fill="#ffffff"/>
<line x1="824.8" y1="449.7" x2="824.8" y2="515.0" stroke="#8a8a8a" stroke-width="0.7"/>
<line x1="830.7" y1="449.7" x2="830.7" y2="515.0" stroke="#8a8a8a" stroke-width="0.7"/>
<line x1="827.8" y1="449.7" x2="827.8" y2="515.0" stroke="#999" stroke-width="0.7"/>
<rect x="824.5" y="587.2" width="6.5" height="39.0" fill="#ffffff"/>
<line x1="824.8" y1="587.2" x2="824.8" y2="626.2" stroke="#8a8a8a" stroke-width="0.7"/>
<line x1="830.7" y1="587.2" x2="830.7" y2="626.2" stroke="#8a8a8a" stroke-width="0.7"/>
<line x1="827.8" y1="587.2" x2="827.8" y2="626.2" stroke="#999" stroke-width="0.7"/>
<rect x="824.5" y="636.4" width="6.5" height="38.0" fill="#ffffff"/>
<line x1="824.8" y1="636.4" x2="824.8" y2="674.4" stroke="#8a8a8a" stroke-width="0.7"/>
<line x1="830.7" y1="636.4" x2="830.7" y2="674.4" stroke="#8a8a8a" stroke-width="0.7"/>
<line x1="827.8" y1="636.4" x2="827.8" y2="674.4" stroke="#999" stroke-width="0.7"/>
<rect x="546.5" y="223.3" width="38.8" height="6.3" fill="#ffffff"/>
<line x1="546.5" y1="223.6" x2="585.3" y2="223.6" stroke="#8a8a8a" stroke-width="0.7"/>
<line x1="546.5" y1="229.3" x2="585.3" y2="229.3" stroke="#8a8a8a" stroke-width="0.7"/>
<line x1="546.5" y1="226.4" x2="585.3" y2="226.4" stroke="#999" stroke-width="0.7"/>
<rect x="594.5" y="235.0" width="7.0" height="39.6" fill="#ffffff"/>
<line x1="594.8" y1="235.0" x2="594.8" y2="274.6" stroke="#8a8a8a" stroke-width="0.7"/>
<line x1="601.2" y1="235.0" x2="601.2" y2="274.6" stroke="#8a8a8a" stroke-width="0.7"/>
<line x1="598.0" y1="235.0" x2="598.0" y2="274.6" stroke="#999" stroke-width="0.7"/>
<rect x="594.5" y="290.6" width="7.0" height="39.1" fill="#ffffff"/>
<line x1="594.8" y1="290.6" x2="594.8" y2="329.7" stroke="#8a8a8a" stroke-width="0.7"/>
<line x1="601.2" y1="290.6" x2="601.2" y2="329.7" stroke="#8a8a8a" stroke-width="0.7"/>
<line x1="598.0" y1="290.6" x2="598.0" y2="329.7" stroke="#999" stroke-width="0.7"/>
<rect x="447.7" y="330.2" width="37.9" height="6.4" fill="#ffffff"/>
<line x1="447.7" y1="330.5" x2="485.6" y2="330.5" stroke="#8a8a8a" stroke-width="0.7"/>
<line x1="447.7" y1="336.3" x2="485.6" y2="336.3" stroke="#8a8a8a" stroke-width="0.7"/>
<line x1="447.7" y1="333.4" x2="485.6" y2="333.4" stroke="#999" stroke-width="0.7"/>
<rect x="526.2" y="343.8" width="12.0" height="38.1" fill="#ffffff"/>
<line x1="526.5" y1="343.8" x2="526.5" y2="381.9" stroke="#8a8a8a" stroke-width="0.7"/>
<line x1="537.9" y1="343.8" x2="537.9" y2="381.9" stroke="#8a8a8a" stroke-width="0.7"/>
<line x1="532.2" y1="343.8" x2="532.2" y2="381.9" stroke="#999" stroke-width="0.7"/>
<rect x="595.0" y="568.4" width="49.3" height="5.2" fill="#dedede" stroke="#8a8a8a" stroke-width="0.6"/>
<line x1="595.5" y1="570.0" x2="643.8" y2="570.0" stroke="#fafafa" stroke-width="1.2"/>
<rect x="645.0" y="568.4" width="100.0" height="5.2" fill="#dedede" stroke="#8a8a8a" stroke-width="0.6"/>
<line x1="645.5" y1="570.0" x2="744.5" y2="570.0" stroke="#fafafa" stroke-width="1.2"/>
<rect x="745.7" y="568.4" width="49.3" height="5.2" fill="#dedede" stroke="#8a8a8a" stroke-width="0.6"/>
<line x1="746.2" y1="570.0" x2="794.5" y2="570.0" stroke="#fafafa" stroke-width="1.2"/>
<line x1="803.5" y1="419.6" x2="818.5" y2="419.6" stroke="#222" stroke-width="1.6"/>
<rect x="244.0" y="381.0" width="15.0" height="8.5" fill="#000000"/>
<rect x="805.2" y="429.2" width="19.2" height="13.6" fill="#000000"/>
<rect x="802.1" y="552.9" width="22.3" height="14.6" fill="#000000"/>
<rect x="510.5" y="606.0" width="14.0" height="15.5" fill="#000000"/>
<rect x="821.5" y="677.8" width="3.5" height="9.5" fill="#000000"/>
<text x="584.0" y="179.5" font-size="14" font-weight="bold" text-anchor="middle" fill="#111" font-family='"Liberation Sans", sans-serif' textLength="42.8" lengthAdjust="spacingAndGlyphs">卫生间</text>
<text transform="translate(564.9,197.0) scale(1.045,1)" x="0" y="0" font-size="12.1" fill="#111" stroke="#111" stroke-width="0.3" font-family='"Liberation Sans", sans-serif'>3.35m<tspan font-size="6" dx="-1.9" dy="-6.9" stroke-width="0.15">2</tspan></text>
<text x="720.7" y="211.6" font-size="14" font-weight="bold" text-anchor="middle" fill="#111" font-family='"Liberation Sans", sans-serif' textLength="28.0" lengthAdjust="spacingAndGlyphs">卧室</text>
<text transform="translate(699.9,228.2) scale(1.045,1)" x="0" y="0" font-size="12.1" fill="#111" stroke="#111" stroke-width="0.3" font-family='"Liberation Sans", sans-serif'>11.73m<tspan font-size="6" dx="-1.9" dy="-6.9" stroke-width="0.15">2</tspan></text>
<text x="484.4" y="269.5" font-size="14" font-weight="bold" text-anchor="middle" fill="#111" font-family='"Liberation Sans", sans-serif' textLength="43.2" lengthAdjust="spacingAndGlyphs">卫生间</text>
<text transform="translate(469.4,287.7) scale(1.045,1)" x="0" y="0" font-size="12.1" fill="#111" stroke="#111" stroke-width="0.3" font-family='"Liberation Sans", sans-serif'>4.3m<tspan font-size="6" dx="-1.9" dy="-6.9" stroke-width="0.15">2</tspan></text>
<text x="358.1" y="306.6" font-size="14" font-weight="bold" text-anchor="middle" fill="#111" font-family='"Liberation Sans", sans-serif' textLength="28.6" lengthAdjust="spacingAndGlyphs">卧室</text>
<text transform="translate(336.2,324.8) scale(1.045,1)" x="0" y="0" font-size="12.1" fill="#111" stroke="#111" stroke-width="0.3" font-family='"Liberation Sans", sans-serif'>16.74m<tspan font-size="6" dx="-1.9" dy="-6.9" stroke-width="0.15">2</tspan></text>
<text x="709.5" y="354.1" font-size="14" font-weight="bold" text-anchor="middle" fill="#111" font-family='"Liberation Sans", sans-serif' textLength="28.3" lengthAdjust="spacingAndGlyphs">卧室</text>
<text transform="translate(688.9,371.4) scale(1.045,1)" x="0" y="0" font-size="12.1" fill="#111" stroke="#111" stroke-width="0.3" font-family='"Liberation Sans", sans-serif'>12.39m<tspan font-size="6" dx="-1.9" dy="-6.9" stroke-width="0.15">2</tspan></text>
<text x="460.6" y="490.3" font-size="14" font-weight="bold" text-anchor="middle" fill="#111" font-family='"Liberation Sans", sans-serif' textLength="43.6" lengthAdjust="spacingAndGlyphs">客餐厅</text>
<text transform="translate(439.1,507.0) scale(1.045,1)" x="0" y="0" font-size="12.1" fill="#111" stroke="#111" stroke-width="0.3" font-family='"Liberation Sans", sans-serif'>57.65m<tspan font-size="6" dx="-1.9" dy="-6.9" stroke-width="0.15">2</tspan></text>
<text x="680.6" y="631.3" font-size="14" font-weight="bold" text-anchor="middle" fill="#111" font-family='"Liberation Sans", sans-serif' textLength="28.5" lengthAdjust="spacingAndGlyphs">厨房</text>
<text transform="translate(660.2,649.1) scale(1.045,1)" x="0" y="0" font-size="12.1" fill="#111" stroke="#111" stroke-width="0.3" font-family='"Liberation Sans", sans-serif'>13.81m<tspan font-size="6" dx="-1.9" dy="-6.9" stroke-width="0.15">2</tspan></text>
<line x1="146.5" y1="89.6" x2="830.8" y2="89.6" stroke="#333333" stroke-width="0.9"/>
<line x1="146.5" y1="85.8" x2="146.5" y2="101.5" stroke="#333333" stroke-width="0.9"/>
<line x1="143.3" y1="92.8" x2="149.7" y2="86.4" stroke="#333333" stroke-width="1.3"/>
<line x1="830.8" y1="85.8" x2="830.8" y2="101.5" stroke="#333333" stroke-width="0.9"/>
<line x1="827.6" y1="92.8" x2="834.0" y2="86.4" stroke="#333333" stroke-width="1.3"/>
<text x="489.0" y="89.9" font-size="10.3" text-anchor="middle" fill="#1e1e1e" stroke="#1e1e1e" stroke-width="0.22" font-family='"Liberation Sans", sans-serif' textLength="25.8" lengthAdjust="spacingAndGlyphs">14039</text>
<line x1="154.9" y1="105.0" x2="818.5" y2="105.0" stroke="#333333" stroke-width="0.9"/>
<line x1="154.9" y1="100.0" x2="154.9" y2="116.6" stroke="#333333" stroke-width="0.9"/>
<line x1="151.7" y1="108.2" x2="158.1" y2="101.8" stroke="#333333" stroke-width="1.3"/>
<line x1="231.8" y1="100.0" x2="231.8" y2="116.6" stroke="#333333" stroke-width="0.9"/>
<line x1="228.6" y1="108.2" x2="235.0" y2="101.8" stroke="#333333" stroke-width="1.3"/>
<line x1="243.5" y1="100.0" x2="243.5" y2="116.6" stroke="#333333" stroke-width="0.9"/>
<line x1="240.3" y1="108.2" x2="246.7" y2="101.8" stroke="#333333" stroke-width="1.3"/>
<line x1="436.3" y1="100.0" x2="436.3" y2="116.6" stroke="#333333" stroke-width="0.9"/>
<line x1="433.1" y1="108.2" x2="439.5" y2="101.8" stroke="#333333" stroke-width="1.3"/>
<line x1="442.0" y1="100.0" x2="442.0" y2="116.6" stroke="#333333" stroke-width="0.9"/>
<line x1="438.8" y1="108.2" x2="445.2" y2="101.8" stroke="#333333" stroke-width="1.3"/>
<line x1="526.8" y1="100.0" x2="526.8" y2="116.6" stroke="#333333" stroke-width="0.9"/>
<line x1="523.6" y1="108.2" x2="530.0" y2="101.8" stroke="#333333" stroke-width="1.3"/>
<line x1="537.4" y1="100.0" x2="537.4" y2="116.6" stroke="#333333" stroke-width="0.9"/>
<line x1="534.2" y1="108.2" x2="540.6" y2="101.8" stroke="#333333" stroke-width="1.3"/>
<line x1="629.5" y1="100.0" x2="629.5" y2="116.6" stroke="#333333" stroke-width="0.9"/>
<line x1="626.3" y1="108.2" x2="632.7" y2="101.8" stroke="#333333" stroke-width="1.3"/>
<line x1="635.2" y1="100.0" x2="635.2" y2="116.6" stroke="#333333" stroke-width="0.9"/>
<line x1="632.0" y1="108.2" x2="638.4" y2="101.8" stroke="#333333" stroke-width="1.3"/>
<line x1="818.5" y1="100.0" x2="818.5" y2="116.6" stroke="#333333" stroke-width="0.9"/>
<line x1="815.3" y1="108.2" x2="821.7" y2="101.8" stroke="#333333" stroke-width="1.3"/>
<text x="193.4" y="105.3" font-size="10.3" text-anchor="middle" fill="#1e1e1e" stroke="#1e1e1e" stroke-width="0.22" font-family='"Liberation Sans", sans-serif' textLength="20.6" lengthAdjust="spacingAndGlyphs">1580</text>
<text x="339.9" y="105.3" font-size="10.3" text-anchor="middle" fill="#1e1e1e" stroke="#1e1e1e" stroke-width="0.22" font-family='"Liberation Sans", sans-serif' textLength="20.6" lengthAdjust="spacingAndGlyphs">3960</text>
<text x="484.4" y="105.3" font-size="10.3" text-anchor="middle" fill="#1e1e1e" stroke="#1e1e1e" stroke-width="0.22" font-family='"Liberation Sans", sans-serif' textLength="20.6" lengthAdjust="spacingAndGlyphs">1720</text>
<text x="583.5" y="105.3" font-size="10.3" text-anchor="middle" fill="#1e1e1e" stroke="#1e1e1e" stroke-width="0.22" font-family='"Liberation Sans", sans-serif' textLength="20.6" lengthAdjust="spacingAndGlyphs">1880</text>
<text x="726.9" y="105.3" font-size="10.3" text-anchor="middle" fill="#1e1e1e" stroke="#1e1e1e" stroke-width="0.22" font-family='"Liberation Sans", sans-serif' textLength="20.6" lengthAdjust="spacingAndGlyphs">3770</text>
<line x1="154.8" y1="719.3" x2="825.0" y2="719.3" stroke="#333333" stroke-width="0.9"/>
<line x1="154.8" y1="707.3" x2="154.8" y2="722.0" stroke="#333333" stroke-width="0.9"/>
<line x1="151.6" y1="722.5" x2="158.0" y2="716.1" stroke="#333333" stroke-width="1.3"/>
<line x1="232.0" y1="707.3" x2="232.0" y2="722.0" stroke="#333333" stroke-width="0.9"/>
<line x1="228.8" y1="722.5" x2="235.2" y2="716.1" stroke="#333333" stroke-width="1.3"/>
<line x1="254.2" y1="707.3" x2="254.2" y2="722.0" stroke="#333333" stroke-width="0.9"/>
<line x1="251.0" y1="722.5" x2="257.4" y2="716.1" stroke="#333333" stroke-width="1.3"/>
<line x1="525.3" y1="707.3" x2="525.3" y2="722.0" stroke="#333333" stroke-width="0.9"/>
<line x1="522.1" y1="722.5" x2="528.5" y2="716.1" stroke="#333333" stroke-width="1.3"/>
<line x1="536.8" y1="707.3" x2="536.8" y2="722.0" stroke="#333333" stroke-width="0.9"/>
<line x1="533.6" y1="722.5" x2="540.0" y2="716.1" stroke="#333333" stroke-width="1.3"/>
<line x1="825.0" y1="707.3" x2="825.0" y2="722.0" stroke="#333333" stroke-width="0.9"/>
<line x1="821.8" y1="722.5" x2="828.2" y2="716.1" stroke="#333333" stroke-width="1.3"/>
<text x="193.4" y="719.5" font-size="10.3" text-anchor="middle" fill="#1e1e1e" stroke="#1e1e1e" stroke-width="0.22" font-family='"Liberation Sans", sans-serif' textLength="20.6" lengthAdjust="spacingAndGlyphs">1580</text>
<text x="389.8" y="719.5" font-size="10.3" text-anchor="middle" fill="#1e1e1e" stroke="#1e1e1e" stroke-width="0.22" font-family='"Liberation Sans", sans-serif' textLength="20.6" lengthAdjust="spacingAndGlyphs">5570</text>
<text x="680.9" y="719.5" font-size="10.3" text-anchor="middle" fill="#1e1e1e" stroke="#1e1e1e" stroke-width="0.22" font-family='"Liberation Sans", sans-serif' textLength="20.6" lengthAdjust="spacingAndGlyphs">5900</text>
<line x1="146.4" y1="734.7" x2="830.1" y2="734.7" stroke="#333333" stroke-width="0.9"/>
<line x1="146.4" y1="722.7" x2="146.4" y2="737.5" stroke="#333333" stroke-width="0.9"/>
<line x1="143.2" y1="737.9" x2="149.6" y2="731.5" stroke="#333333" stroke-width="1.3"/>
<line x1="830.1" y1="722.7" x2="830.1" y2="737.5" stroke="#333333" stroke-width="0.9"/>
<line x1="826.9" y1="737.9" x2="833.3" y2="731.5" stroke="#333333" stroke-width="1.3"/>
<text x="489.2" y="734.9" font-size="10.3" text-anchor="middle" fill="#1e1e1e" stroke="#1e1e1e" stroke-width="0.22" font-family='"Liberation Sans", sans-serif' textLength="25.8" lengthAdjust="spacingAndGlyphs">14039</text>
<line x1="110.0" y1="196.7" x2="110.0" y2="633.2" stroke="#333333" stroke-width="0.9"/>
<line x1="106.0" y1="196.7" x2="121.0" y2="196.7" stroke="#333333" stroke-width="0.9"/>
<line x1="106.8" y1="193.5" x2="113.2" y2="199.9" stroke="#333333" stroke-width="1.3"/>
<line x1="106.0" y1="633.2" x2="121.0" y2="633.2" stroke="#333333" stroke-width="0.9"/>
<line x1="106.8" y1="630.0" x2="113.2" y2="636.4" stroke="#333333" stroke-width="1.3"/>
<line x1="125.2" y1="208.9" x2="125.2" y2="621.3" stroke="#333333" stroke-width="0.9"/>
<line x1="121.5" y1="208.9" x2="137.0" y2="208.9" stroke="#333333" stroke-width="0.9"/>
<line x1="122.0" y1="205.7" x2="128.4" y2="212.1" stroke="#333333" stroke-width="1.3"/>
<line x1="121.5" y1="380.4" x2="137.0" y2="380.4" stroke="#333333" stroke-width="0.9"/>
<line x1="122.0" y1="377.2" x2="128.4" y2="383.6" stroke="#333333" stroke-width="1.3"/>
<line x1="121.5" y1="389.7" x2="137.0" y2="389.7" stroke="#333333" stroke-width="0.9"/>
<line x1="122.0" y1="386.5" x2="128.4" y2="392.9" stroke="#333333" stroke-width="1.3"/>
<line x1="121.5" y1="621.3" x2="137.0" y2="621.3" stroke="#333333" stroke-width="0.9"/>
<line x1="122.0" y1="618.1" x2="128.4" y2="624.5" stroke="#333333" stroke-width="1.3"/>
<text x="110.6" y="415.0" font-size="10.3" text-anchor="middle" fill="#1e1e1e" stroke="#1e1e1e" stroke-width="0.22" font-family='"Liberation Sans", sans-serif' textLength="20.6" lengthAdjust="spacingAndGlyphs" transform="rotate(-90 110.6 415.0)">8949</text>
<text x="126.2" y="293.5" font-size="10.3" text-anchor="middle" fill="#1e1e1e" stroke="#1e1e1e" stroke-width="0.22" font-family='"Liberation Sans", sans-serif' textLength="20.6" lengthAdjust="spacingAndGlyphs" transform="rotate(-90 126.2 293.5)">3530</text>
<text x="126.2" y="505.5" font-size="10.3" text-anchor="middle" fill="#1e1e1e" stroke="#1e1e1e" stroke-width="0.22" font-family='"Liberation Sans", sans-serif' textLength="20.6" lengthAdjust="spacingAndGlyphs" transform="rotate(-90 126.2 505.5)">4770</text>
<line x1="869.5" y1="124.6" x2="869.5" y2="699.0" stroke="#333333" stroke-width="0.9"/>
<line x1="858.0" y1="124.6" x2="873.0" y2="124.6" stroke="#333333" stroke-width="0.9"/>
<line x1="866.3" y1="121.4" x2="872.7" y2="127.8" stroke="#333333" stroke-width="1.3"/>
<line x1="858.0" y1="699.0" x2="873.0" y2="699.0" stroke="#333333" stroke-width="0.9"/>
<line x1="866.3" y1="695.8" x2="872.7" y2="702.2" stroke="#333333" stroke-width="1.3"/>
<line x1="854.6" y1="136.1" x2="854.6" y2="687.3" stroke="#333333" stroke-width="0.9"/>
<line x1="842.4" y1="136.1" x2="857.5" y2="136.1" stroke="#333333" stroke-width="0.9"/>
<line x1="851.4" y1="132.9" x2="857.8" y2="139.3" stroke="#333333" stroke-width="1.3"/>
<line x1="842.4" y1="279.2" x2="857.5" y2="279.2" stroke="#333333" stroke-width="0.9"/>
<line x1="851.4" y1="276.0" x2="857.8" y2="282.4" stroke="#333333" stroke-width="1.3"/>
<line x1="842.4" y1="285.4" x2="857.5" y2="285.4" stroke="#333333" stroke-width="0.9"/>
<line x1="851.4" y1="282.2" x2="857.8" y2="288.6" stroke="#333333" stroke-width="1.3"/>
<line x1="842.4" y1="421.1" x2="857.5" y2="421.1" stroke="#333333" stroke-width="0.9"/>
<line x1="851.4" y1="417.9" x2="857.8" y2="424.3" stroke="#333333" stroke-width="1.3"/>
<line x1="842.4" y1="428.1" x2="857.5" y2="428.1" stroke="#333333" stroke-width="0.9"/>
<line x1="851.4" y1="424.9" x2="857.8" y2="431.3" stroke="#333333" stroke-width="1.3"/>
<line x1="842.4" y1="567.7" x2="857.5" y2="567.7" stroke="#333333" stroke-width="0.9"/>
<line x1="851.4" y1="564.5" x2="857.8" y2="570.9" stroke="#333333" stroke-width="1.3"/>
<line x1="842.4" y1="572.8" x2="857.5" y2="572.8" stroke="#333333" stroke-width="0.9"/>
<line x1="851.4" y1="569.6" x2="857.8" y2="576.0" stroke="#333333" stroke-width="1.3"/>
<line x1="842.4" y1="687.3" x2="857.5" y2="687.3" stroke="#333333" stroke-width="0.9"/>
<line x1="851.4" y1="684.1" x2="857.8" y2="690.5" stroke="#333333" stroke-width="1.3"/>
<text x="855.8" y="208.0" font-size="10.3" text-anchor="middle" fill="#1e1e1e" stroke="#1e1e1e" stroke-width="0.22" font-family='"Liberation Sans", sans-serif' textLength="20.6" lengthAdjust="spacingAndGlyphs" transform="rotate(-90 855.8 208.0)">2920</text>
<text x="855.8" y="353.0" font-size="10.3" text-anchor="middle" fill="#1e1e1e" stroke="#1e1e1e" stroke-width="0.22" font-family='"Liberation Sans", sans-serif' textLength="20.6" lengthAdjust="spacingAndGlyphs" transform="rotate(-90 855.8 353.0)">2765</text>
<text x="855.8" y="498.2" font-size="10.3" text-anchor="middle" fill="#1e1e1e" stroke="#1e1e1e" stroke-width="0.22" font-family='"Liberation Sans", sans-serif' textLength="20.6" lengthAdjust="spacingAndGlyphs" transform="rotate(-90 855.8 498.2)">2845</text>
<text x="855.8" y="630.3" font-size="10.3" text-anchor="middle" fill="#1e1e1e" stroke="#1e1e1e" stroke-width="0.22" font-family='"Liberation Sans", sans-serif' textLength="20.6" lengthAdjust="spacingAndGlyphs" transform="rotate(-90 855.8 630.3)">2340</text>
<text x="870.6" y="410.8" font-size="10.3" text-anchor="middle" fill="#1e1e1e" stroke="#1e1e1e" stroke-width="0.22" font-family='"Liberation Sans", sans-serif' textLength="25.8" lengthAdjust="spacingAndGlyphs" transform="rotate(-90 870.6 410.8)">11789</text>
<text x="777.5" y="795.3" font-size="23.7" fill="#8a8a8a" font-family='"Liberation Sans", sans-serif' textLength="166" lengthAdjust="spacingAndGlyphs" transform="translate(-0.9,0.9)">卡诺亚定制家居</text>
<text x="777.5" y="795.3" font-size="23.7" fill="#ffffff" font-family='"Liberation Sans", sans-serif' textLength="166" lengthAdjust="spacingAndGlyphs">卡诺亚定制家居</text>
<path d="M747.5,775.5 Q742,770.5 735,772.5 Q731,774.5 731,778" fill="none" stroke="#d8d8d8" stroke-width="0.9"/>
<path d="M731,778 Q730.5,783 735.5,787.5 L735.5,793.5 L740.5,790.8 Q742.5,792 745,792" fill="none" stroke="#999" stroke-width="0.9"/>
<ellipse cx="757.6" cy="789" rx="12.1" ry="10.6" fill="none" stroke="#8a8a8a" stroke-width="0.9"/>
<path d="M762,799.2 L766,800.6 L764.5,797" fill="#fff" stroke="#8a8a8a" stroke-width="0.9"/>
<circle cx="739.3" cy="775" r="0.9" fill="#999"/>
<circle cx="749.3" cy="775.2" r="0.9" fill="#999"/>
<circle cx="752.8" cy="785.4" r="0.9" fill="#999"/>
<circle cx="761.8" cy="785.2" r="0.9" fill="#999"/>
</svg>
</body></html>
